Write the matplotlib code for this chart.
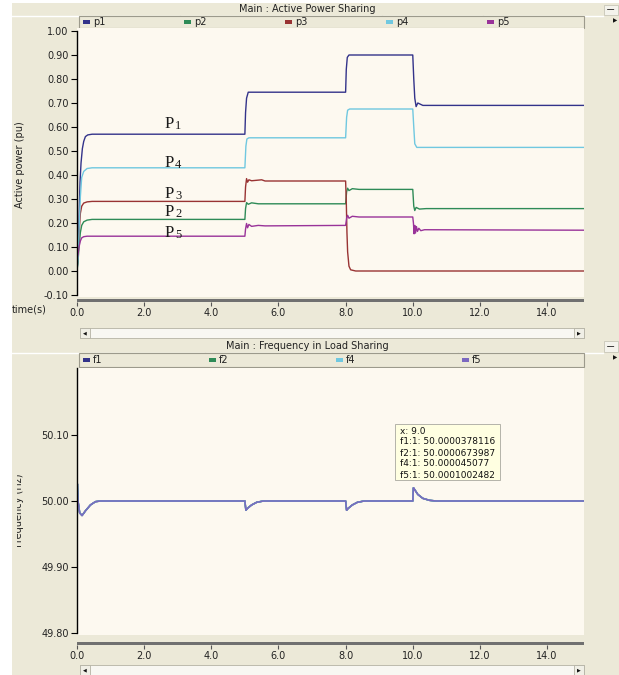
import matplotlib
matplotlib.use('Agg')
import matplotlib.pyplot as plt
from matplotlib.patches import Rectangle
from matplotlib.transforms import Bbox

W, H = 619, 675

# active power (pu) against time (s)
p1_t = [0.0, 0.03, 0.06, 0.09, 0.12, 0.16, 0.2, 0.25, 0.32, 0.45, 5.0, 5.02, 5.05, 5.1,
        8.0, 8.02, 8.05, 8.1, 10.0, 10.03, 10.06, 10.1, 10.15, 10.3, 15.1]
p1_v = [0.0, 0.06, 0.21, 0.37, 0.45, 0.51, 0.54, 0.56, 0.567, 0.57, 0.57, 0.66, 0.72, 0.745,
        0.745, 0.84, 0.89, 0.90, 0.90, 0.80, 0.72, 0.685, 0.70, 0.69, 0.69]

p2_t = [0.0, 0.03, 0.06, 0.1, 0.14, 0.2, 0.3, 0.45, 5.0, 5.02, 5.05, 5.1, 5.2, 5.4,
        8.0, 8.03, 8.06, 8.1, 8.2, 8.4, 10.0, 10.03, 10.06, 10.1, 10.2, 10.4, 15.1]
p2_v = [0.0, 0.04, 0.10, 0.16, 0.19, 0.205, 0.212, 0.215, 0.215, 0.26, 0.285, 0.278, 0.284, 0.28,
        0.28, 0.33, 0.345, 0.335, 0.343, 0.34, 0.34, 0.27, 0.252, 0.265, 0.258, 0.26, 0.26]

p3_t = [0.0, 0.03, 0.06, 0.1, 0.14, 0.2, 0.3, 0.45, 5.0, 5.02, 5.05, 5.08, 5.12, 5.2, 5.5, 5.6,
        8.0, 8.02, 8.04, 8.06, 8.1, 8.15, 8.3, 15.1]
p3_v = [0.0, 0.07, 0.15, 0.24, 0.27, 0.283, 0.288, 0.29, 0.29, 0.35, 0.385, 0.37, 0.38, 0.376, 0.38, 0.375,
        0.375, 0.29, 0.16, 0.08, 0.02, 0.005, 0.0, 0.0]

p4_t = [0.0, 0.03, 0.06, 0.1, 0.14, 0.2, 0.3, 0.45, 5.0, 5.03, 5.06, 5.12,
        8.0, 8.03, 8.06, 8.12, 10.0, 10.03, 10.06, 10.12, 15.1]
p4_v = [0.0, 0.05, 0.17, 0.31, 0.39, 0.415, 0.427, 0.43, 0.43, 0.52, 0.55, 0.555,
        0.555, 0.64, 0.67, 0.675, 0.675, 0.60, 0.53, 0.515, 0.515]

p5_t = [0.0, 0.03, 0.06, 0.1, 0.14, 0.2, 0.3, 0.45, 5.0, 5.02, 5.05, 5.08, 5.12, 5.2, 5.4, 5.6,
        8.0, 8.03, 8.06, 8.1, 8.2, 8.4, 10.0, 10.02, 10.04, 10.06, 10.08, 10.11, 10.14, 10.18,
        10.24, 10.35, 15.1]
p5_v = [0.05, 0.07, 0.10, 0.125, 0.138, 0.143, 0.145, 0.145, 0.145, 0.175, 0.198, 0.18, 0.194, 0.186, 0.19, 0.188,
        0.19, 0.22, 0.232, 0.22, 0.228, 0.225, 0.225, 0.20, 0.155, 0.19, 0.158, 0.185, 0.165, 0.178,
        0.168, 0.172, 0.17]

# frequency (Hz): the four traces lie on top of each other
f_t = [0.0, 0.01, 0.03, 0.08, 0.15, 0.25, 0.4, 0.55, 0.7, 5.0, 5.03, 5.08, 5.2, 5.35, 5.55, 5.7,
       8.0, 8.03, 8.08, 8.2, 8.35, 8.55, 8.7, 10.0, 10.02, 10.06, 10.15, 10.3, 10.5, 10.7, 15.1]
f_v = [50.0, 50.026, 50.0, 49.982, 49.978, 49.985, 49.994, 49.999, 50.0, 50.0, 49.986, 49.989, 49.994, 49.998, 50.0, 50.0,
       50.0, 49.986, 49.989, 49.994, 49.998, 50.0, 50.0, 50.0, 50.02, 50.017, 50.01, 50.004, 50.001, 50.0, 50.0]

p_names = ['p1', 'p2', 'p3', 'p4', 'p5']
p_colors = ['#33338a', '#2e8b57', '#993333', '#70c8e0', '#993399']
f_names = ['f1', 'f2', 'f4', 'f5']
f_colors = ['#33338a', '#2e8b57', '#70c8e0', '#7b68c0']

p_ticks = [-0.1, 0.0, 0.1, 0.2, 0.3, 0.4, 0.5, 0.6, 0.7, 0.8, 0.9, 1.0]
f_ticks = [49.8, 49.9, 50.0, 50.1]
t_ticks = [0, 2, 4, 6, 8, 10, 12, 14]

tip_lines = ['x: 9.0', 'f1:1: 50.0000378116', 'f2:1: 50.0000673987',
             'f4:1: 50.000045077', 'f5:1: 50.0001002482']

BEIGE = '#ece9d8'
CREAM = '#fdf9f0'


def fx(x):
    return x / W


def fy(y):
    return 1 - y / H


fig = plt.figure(figsize=(W / 100, H / 100), dpi=100, facecolor='white')


def rect(x0, y0, x1, y1, z=-1, **kw):
    fig.patches.append(Rectangle((fx(x0), fy(y1)), (x1 - x0) / W, (y1 - y0) / H,
                                 transform=fig.transFigure, zorder=z, **kw))


def txt(x, y, s, **kw):
    kw.setdefault('fontsize', 7)
    kw.setdefault('va', 'center')
    return fig.text(fx(x), fy(y), s, **kw)


rect(12, 3, W, H, fc=BEIGE, ec='none', z=-3)


def title_bar(y0, y1, title):
    rect(12, y0, 603, y1, fc=BEIGE, ec='none')
    fig.lines.append(plt.Line2D([fx(12), fx(603)], [fy(y1 + 0.5)] * 2, transform=fig.transFigure,
                                color='white', lw=1, zorder=-1))
    txt(307, (y0 + y1) / 2, title, ha='center', color='#222222')
    rect(604, y0 + 1, 618, y1, fc='#f4f3ec', ec='#c8c6b8', lw=0.6)
    txt(611, (y0 + y1) / 2 + 1, '\u2212', ha='center', fontsize=8, color='#333333')


def legend_bar(y0, y1, names, colors):
    rect(79, y0, 584, y1, fc=BEIGE, ec='#9c9a8c', lw=0.8)
    n = len(names)
    w = (584 - 79) / n
    for i in range(n):
        x0 = 79 + i * w
        if i:
            fig.lines.append(plt.Line2D([fx(x0)] * 2, [fy(y0), fy(y1)], transform=fig.transFigure,
                                        color='#9c9a8c', lw=0.8, zorder=-1))
        rect(x0 + 4, (y0 + y1) / 2 - 2, x0 + 11, (y0 + y1) / 2 + 2, fc=colors[i], ec='none', z=2)
        txt(x0 + 14, (y0 + y1) / 2, names[i], color='#222222')
    txt(615, y0 + 5, '\u25b6', ha='center', fontsize=4, color='#111111')


def scroll_bar(y0, y1):
    rect(80, y0, 584, y1, fc='#f8f7f2', ec='#b4b2a4', lw=0.6)
    rect(80, y0, 90, y1, fc='#f0efe6', ec='#b4b2a4', lw=0.6)
    rect(574, y0, 584, y1, fc='#f0efe6', ec='#b4b2a4', lw=0.6)
    txt(85, (y0 + y1) / 2, '\u25c0', ha='center', fontsize=3.5, color='#111111')
    txt(579, (y0 + y1) / 2, '\u25b6', ha='center', fontsize=3.5, color='#111111')


def time_bar(y):
    bx = fig.add_axes([fx(77), fy(y + 1.5), (584 - 77) / W, 3 / H])
    bx.set_facecolor('#707070')
    for s in bx.spines.values():
        s.set_visible(False)
    bx.set_xlim(0, 15.1)
    bx.set_yticks([])
    bx.set_xticks(t_ticks)
    bx.set_xticklabels(['%.1f' % t for t in t_ticks])
    bx.tick_params(axis='x', length=3, width=0.8, color='#555555', pad=2,
                   labelsize=7, labelcolor='#222222')
    return bx


def style_axes(ax):
    ax.set_facecolor(CREAM)
    for k in ['top', 'right', 'bottom']:
        ax.spines[k].set_visible(False)
    ax.spines['left'].set_linewidth(1.0)
    ax.set_xticks([])
    ax.set_xlim(0, 15.1)
    ax.tick_params(axis='y', length=4, width=0.8, pad=2, labelsize=7, labelcolor='#222222')


# ---------------- top panel ----------------
title_bar(4, 15, 'Main : Active Power Sharing')
legend_bar(16, 28, p_names, p_colors)

ax1 = fig.add_axes([fx(77), fy(297), (584 - 77) / W, (297 - 28) / H])
style_axes(ax1)
ax1.set_ylim(-0.1 - 2 / 240, 1.0 + 3 / 240)
ax1.spines['left'].set_bounds(-0.1, 1.0)
ax1.set_yticks(p_ticks)
ax1.set_yticklabels(['%.2f' % v for v in p_ticks])

p_data = [(p1_t, p1_v), (p2_t, p2_v), (p3_t, p3_v), (p4_t, p4_v), (p5_t, p5_v)]
for (t, v), c in zip(p_data, p_colors):
    ax1.plot(t, v, color=c, lw=1.0)

# curve labels drawn on the chart
lab_t = 2.62
for name, base in [('1', 0.596), ('4', 0.433), ('3', 0.304), ('2', 0.229), ('5', 0.1417)]:
    ax1.text(lab_t, base, 'P', fontsize=12, family='Liberation Serif', va='baseline', color='#1a1a1a')
    ax1.annotate(name, (lab_t, base), xytext=(10, -1), textcoords='offset pixels',
                 fontsize=9, family='Liberation Serif', va='baseline', color='#1a1a1a')

txt(20, 165, 'Active power (pu)', rotation=90, ha='center', color='#222222')
txt(12, 310, 'time(s)', ha='left', color='#222222')
time_bar(300)
scroll_bar(328, 338)

# ---------------- bottom panel ----------------
title_bar(340, 352, 'Main : Frequency in Load Sharing')
legend_bar(353, 367, f_names, f_colors)

ax2 = fig.add_axes([fx(77), fy(635), (584 - 77) / W, (635 - 368) / H])
style_axes(ax2)
ax2.set_ylim(49.8 - 0.2 / 66, 49.8 + 26.5 / 66)
ax2.spines['left'].set_bounds(49.8, 49.8 + 26.5 / 66)
ax2.set_yticks(f_ticks)
ax2.set_yticklabels(['%.2f' % v for v in f_ticks])

for c in f_colors:
    ax2.plot(f_t, f_v, color=c, lw=1.1)

flab = txt(19, 510, 'Frequency (Hz)', rotation=90, ha='center', color='#222222')
flab.set_clip_on(True)
flab.set_clip_box(Bbox.from_extents(17, 0, 60, H))

time_bar(643)
scroll_bar(665, 675)

# hover tooltip
rect(395, 424, 500, 480, z=5, fc='#ffffe1', ec='#a8a8a0', lw=0.6)
for i, s in enumerate(tip_lines):
    t = txt(400, 431 + i * 11, s, ha='left', fontsize=6.5, color='#111111')
    t.set_zorder(6)

fig.savefig('out.png', dpi=100, facecolor='white')
